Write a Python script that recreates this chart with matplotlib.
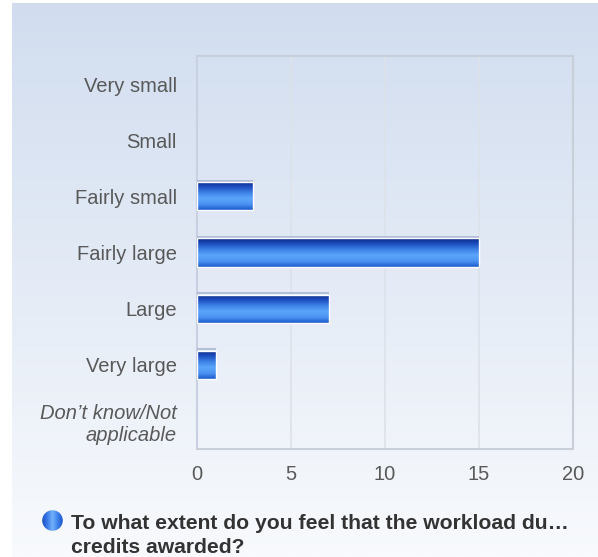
import matplotlib
matplotlib.use("Agg")
import matplotlib.pyplot as plt
import numpy as np
from matplotlib.colors import LinearSegmentedColormap
from matplotlib.patches import Circle

plt.rcParams["font.family"] = ["Liberation Sans", "DejaVu Sans"]

# datos
categorias = ["Very small", "Small", "Fairly small", "Fairly large",
              "Large", "Very large", "Don\u2019t know/Not\napplicable"]
respuestas = [0, 0, 3, 15, 7, 1, 0]
ticks_x = [0, 5, 10, 15, 20]
titulo_1 = "To what extent do you feel that the workload du\u2026"
titulo_2 = "credits awarded?"

W, H = 598, 557
GRIS_TEXTO = "#595959"

fig = plt.figure(figsize=(W / 100, H / 100), dpi=100)

# fondo con degradado vertical
ax_bg = fig.add_axes([12 / W, 0, 1 - 12 / W, 1 - 3 / H])
fondo = LinearSegmentedColormap.from_list("fondo", ["#d1ddef", "#e4ebf6", "#f8fafd"])
ax_bg.imshow(np.linspace(0, 1, 256).reshape(-1, 1), cmap=fondo,
             aspect="auto", extent=(0, 1, 0, 1), origin="upper")
ax_bg.set_axis_off()

# área de gráfico
ax = fig.add_axes([197 / W, 1 - 449 / H, 376 / W, 393 / H])
ax.set_facecolor("none")
n = len(categorias)
pos = np.arange(n)
alto = 0.5

barras = ax.barh(pos, respuestas, height=alto, color="none",
                 edgecolor="white", linewidth=1.0, zorder=4)

degradado = LinearSegmentedColormap.from_list(
    "barra", ["#0a2886", "#1d4fc0", "#3f82e6", "#5ba6fb", "#4b92f0", "#1d5bcc"])
grad = np.linspace(0, 1, 128).reshape(-1, 1)
for b, y, v in zip(barras, pos, respuestas):
    if v <= 0:
        b.set_linewidth(0)
        continue
    im = ax.imshow(grad, cmap=degradado, aspect="auto", origin="upper",
                   extent=(0, v, y + alto / 2, y - alto / 2), zorder=3)
    im.set_clip_path(b)
    ax.hlines(y - alto / 2 - 0.025, 0, v, color="#a9b6d3", linewidth=1.2, zorder=3)

ax.set_xlim(0, 20)
ax.set_ylim(n - 0.5, -0.5)
ax.set_xticks(ticks_x)
ax.set_yticks(pos)
ax.set_yticklabels(categorias)
ax.xaxis.grid(True, color="#dde2ea", linewidth=1.2)
ax.set_axisbelow(True)

ax.tick_params(axis="both", length=0, labelsize=14.5, labelcolor=GRIS_TEXTO)
ax.tick_params(axis="y", pad=14.5)
ax.tick_params(axis="x", pad=11.5)
ult = ax.get_yticklabels()[-1]
ult.set_fontstyle("italic")
ult.set_multialignment("right")

for lado, sp in ax.spines.items():
    sp.set_color("#c9cfd9")
    sp.set_linewidth(1.5)
ax.spines["left"].set_color("#c8d0e2")

# viñeta y título
ax_bullet = fig.add_axes([42 / W, 1 - 531 / H, 21 / W, 21 / H])
ax_bullet.set_axis_off()
bullet_cmap = LinearSegmentedColormap.from_list(
    "bullet", ["#1b4ec4", "#3a7ae6", "#74b2fb", "#3f82ea", "#1d55c8"])
imb = ax_bullet.imshow(np.linspace(0, 1, 64).reshape(1, -1), cmap=bullet_cmap,
                       aspect="auto", extent=(0, 1, 0, 1))
circ = Circle((0.5, 0.5), 0.49, transform=ax_bullet.transData)
imb.set_clip_path(circ)
ax_bullet.set_xlim(0, 1)
ax_bullet.set_ylim(0, 1)

fig.text(71 / W, 1 - 529 / H, titulo_1, fontsize=15.2, fontweight="bold",
         color="#333333", ha="left", va="baseline")
fig.text(71 / W, 1 - 553 / H, titulo_2, fontsize=15.2, fontweight="bold",
         color="#333333", ha="left", va="baseline")

fig.savefig("out.png", dpi=100)
